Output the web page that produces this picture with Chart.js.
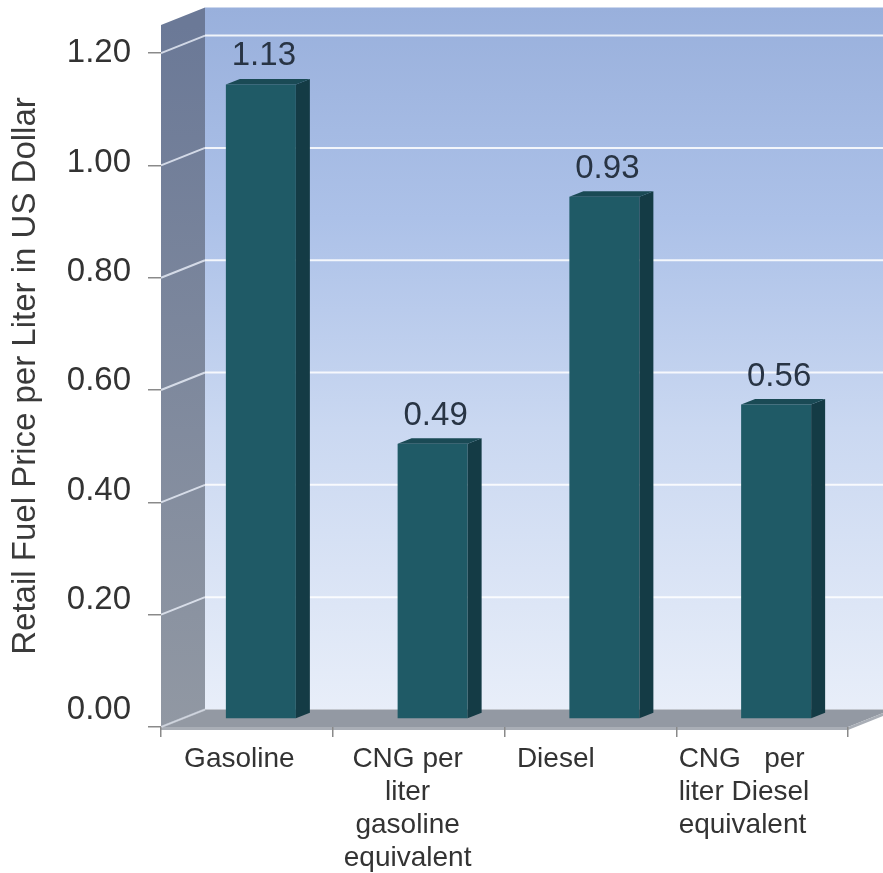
<!DOCTYPE html>
<html>
<head>
<meta charset="utf-8">
<script src="https://cdn.jsdelivr.net/npm/chart.js@4.4.1/dist/chart.umd.min.js"></script>
<style>
  html, body { margin: 0; padding: 0; background: #ffffff; }
  #wrap { width: 883px; height: 873px; }
</style>
</head>
<body>
<div id="wrap"><canvas id="c" width="883" height="873"></canvas></div>
<script>
// Retail fuel prices (US$ per liter)
const categories = [
  ['Gasoline'],
  ['CNG per', 'liter', 'gasoline', 'equivalent'],
  ['Diesel'],
  ['CNG   per', 'liter Diesel', 'equivalent']
];
const prices = [1.13, 0.49, 0.93, 0.56];
const yTicks = [0, 0.2, 0.4, 0.6, 0.8, 1.0, 1.2];
const yMax = 1.25;
const yTitle = 'Retail Fuel Price per Liter in US Dollar';

// 3D look: depth of the box (walls/floor) and of each bar
const DEPTH = { dx: 44, dy: -17.5 };
const BAR_SHIFT = { dx: 14, dy: -8 };
const BAR_DEPTH = { dx: 14, dy: -5.5 };
const FONT = "'Liberation Sans', Arial, sans-serif";

// category label placement (relative to the category centre)
const labelAlign = ['center', 'center', 'left', 'left'];
const labelShift = [-7.5, -11, -73.5, -83.5];

const box3d = {
  id: 'box3d',
  beforeDraw(chart) {
    const { ctx, chartArea: a, scales: { y } } = chart;
    const L = a.left, R = a.right, T = a.top, B = a.bottom;
    const dx = DEPTH.dx, dy = DEPTH.dy;
    ctx.save();

    // back wall
    const gBack = ctx.createLinearGradient(0, T + dy, 0, B + dy);
    gBack.addColorStop(0, '#99b0dc');
    gBack.addColorStop(0.3, '#acc1e8');
    gBack.addColorStop(0.6, '#cad8f1');
    gBack.addColorStop(1, '#e8eef9');
    ctx.fillStyle = gBack;
    ctx.fillRect(L + dx, T + dy, R - L, B - T);

    // left wall
    const gLeft = ctx.createLinearGradient(0, T, 0, B);
    gLeft.addColorStop(0, '#6b7997');
    gLeft.addColorStop(1, '#9198a3');
    ctx.fillStyle = gLeft;
    ctx.beginPath();
    ctx.moveTo(L, T); ctx.lineTo(L + dx, T + dy);
    ctx.lineTo(L + dx, B + dy); ctx.lineTo(L, B);
    ctx.closePath(); ctx.fill();

    // floor
    ctx.fillStyle = '#9399a3';
    ctx.beginPath();
    ctx.moveTo(L, B); ctx.lineTo(R, B);
    ctx.lineTo(R + dx, B + dy); ctx.lineTo(L + dx, B + dy);
    ctx.closePath(); ctx.fill();
    // floor front edge
    ctx.fillStyle = '#a9aeb6';
    ctx.beginPath();
    ctx.moveTo(L, B); ctx.lineTo(R, B);
    ctx.lineTo(R + dx, B + dy); ctx.lineTo(R + dx, B + dy + 3);
    ctx.lineTo(R, B + 3); ctx.lineTo(L, B + 3);
    ctx.closePath(); ctx.fill();

    // grid lines on the walls
    ctx.lineWidth = 2;
    y.ticks.forEach(t => {
      if (t.value === 0) return;
      const py = y.getPixelForValue(t.value);
      ctx.strokeStyle = 'rgba(255,255,255,0.85)';
      ctx.beginPath();
      ctx.moveTo(L + dx, py + dy); ctx.lineTo(R + dx, py + dy);
      ctx.stroke();
      ctx.strokeStyle = 'rgba(235,240,250,0.8)';
      ctx.beginPath();
      ctx.moveTo(L, py); ctx.lineTo(L + dx, py + dy);
      ctx.stroke();
    });
    ctx.strokeStyle = 'rgba(235,240,250,0.6)';
    ctx.beginPath();
    ctx.moveTo(L, B); ctx.lineTo(L + dx, B + dy);
    ctx.stroke();
    ctx.restore();
  },
  beforeDatasetDraw(chart) {
    chart.ctx.save();
    chart.ctx.translate(BAR_SHIFT.dx, BAR_SHIFT.dy);
  },
  afterDatasetDraw(chart, args) {
    const { ctx } = chart;
    const bdx = BAR_DEPTH.dx, bdy = BAR_DEPTH.dy;
    args.meta.data.forEach((bar, i) => {
      const { x, y, base, width } = bar.getProps(['x', 'y', 'base', 'width'], true);
      const l = x - width / 2, r = x + width / 2;
      // side face
      ctx.fillStyle = '#143b45';
      ctx.beginPath();
      ctx.moveTo(r, y); ctx.lineTo(r + bdx, y + bdy);
      ctx.lineTo(r + bdx, base + bdy); ctx.lineTo(r, base);
      ctx.closePath(); ctx.fill();
      // top face
      ctx.fillStyle = '#1a4a55';
      ctx.beginPath();
      ctx.moveTo(l, y); ctx.lineTo(l + bdx, y + bdy);
      ctx.lineTo(r + bdx, y + bdy); ctx.lineTo(r, y);
      ctx.closePath(); ctx.fill();
      // value label
      ctx.fillStyle = '#283444';
      ctx.font = `33px ${FONT}`;
      ctx.textAlign = 'center';
      ctx.textBaseline = 'alphabetic';
      ctx.fillText(prices[i].toFixed(2), x + 3, y - 19);
    });
    ctx.restore();
  },
  afterDraw(chart) {
    const { ctx, chartArea: a, scales: { x, y } } = chart;
    ctx.save();
    // value axis labels: they sit on the front edge at the top and drift
    // toward the back edge of the floor at the bottom
    ctx.fillStyle = '#333333';
    ctx.font = `33px ${FONT}`;
    ctx.textAlign = 'right';
    ctx.textBaseline = 'middle';
    const top = yTicks[yTicks.length - 1];
    yTicks.forEach(v => {
      const py = y.getPixelForValue(v) + DEPTH.dy * (1 - v / top);
      ctx.fillText(v.toFixed(2), a.left - 30, py);
    });
    // multi-line category labels
    ctx.font = `28px ${FONT}`;
    ctx.textBaseline = 'alphabetic';
    categories.forEach((lines, i) => {
      ctx.textAlign = labelAlign[i];
      const px = x.getPixelForValue(i) + labelShift[i];
      lines.forEach((s, k) => ctx.fillText(s, px, 766.5 + k * 33));
    });
    ctx.restore();
  }
};

new Chart(document.getElementById('c'), {
  type: 'bar',
  data: {
    labels: categories.map(c => c.join(' ')),
    datasets: [{
      data: prices,
      backgroundColor: '#1f5a66',
      borderWidth: 0,
      barPercentage: 0.4076,
      categoryPercentage: 1,
      clip: false
    }]
  },
  options: {
    responsive: false,
    animation: false,
    devicePixelRatio: 1,
    layout: { padding: { left: 0, top: 25, right: 35, bottom: 0 } },
    plugins: { legend: { display: false }, tooltip: { enabled: false } },
    scales: {
      x: {
        grid: { drawOnChartArea: false, drawTicks: true, tickLength: 10, color: '#8a8a8a', lineWidth: 1.5 },
        border: { display: false },
        ticks: { display: false },
        afterFit(s) { s.height = 146; }
      },
      y: {
        min: 0,
        max: yMax,
        afterBuildTicks(s) { s.ticks = yTicks.map(v => ({ value: v })); },
        grid: { drawOnChartArea: false, drawTicks: true, tickLength: 13, color: '#8a8a8a', lineWidth: 1.5 },
        border: { display: false },
        ticks: { display: false },
        title: {
          display: true,
          text: yTitle,
          color: '#3a3a3a',
          font: { family: FONT, size: 33 },
          padding: { top: 6, bottom: 0 }
        },
        afterFit(s) { s.width = 161; }
      }
    }
  },
  plugins: [box3d]
});
</script>
</body>
</html>
